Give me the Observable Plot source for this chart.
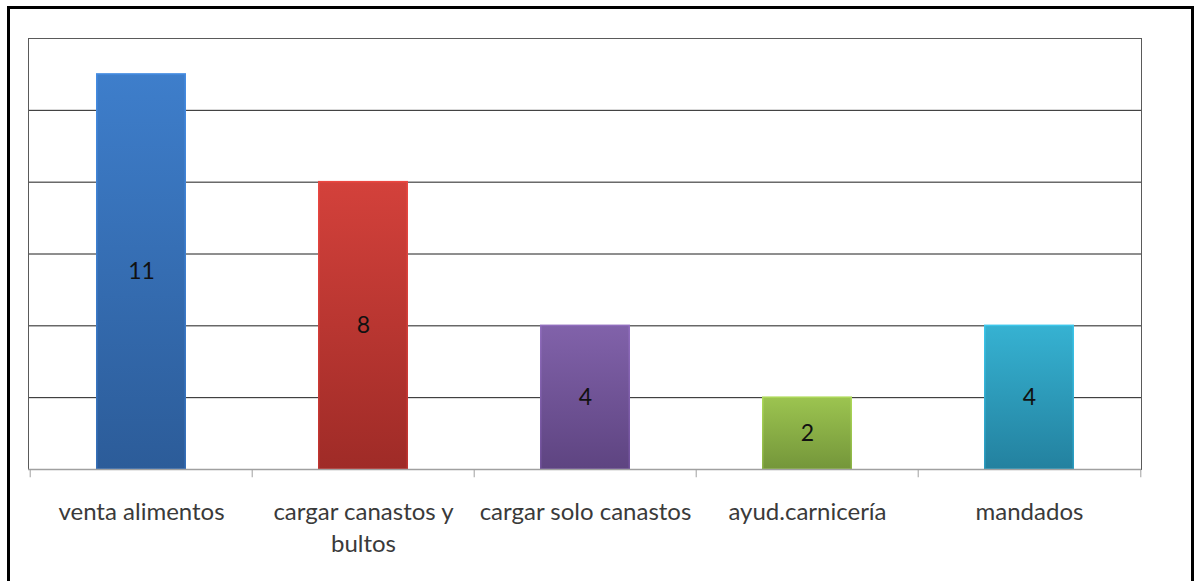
<!DOCTYPE html>
<html>
<head>
<meta charset="utf-8">
<script src="https://cdn.jsdelivr.net/npm/d3@7"></script>
<script src="https://cdn.jsdelivr.net/npm/@observablehq/plot@0.6"></script>
<style>
  html, body { margin: 0; padding: 0; background: #fff; overflow: hidden; }
  #wrap { position: relative; width: 1197px; height: 581px; }
  #border { position: absolute; left: 7px; top: 6px; width: 1181px; height: 600px; border: 3px solid #000; pointer-events: none; }
  #chart { position: absolute; left: 0; top: 0; }
</style>
</head>
<body>
<div id="wrap"><div id="chart"></div><div id="border"></div></div>
<script>
const categories = ["venta alimentos", "cargar canastos y bultos", "cargar solo canastos", "ayud.carnicería", "mandados"];
const tickLabels = ["venta alimentos", "cargar canastos y\nbultos", "cargar solo canastos", "ayud.carnicería", "mandados"];
const values = [11, 8, 4, 2, 4];
const gridValues = [2, 4, 6, 8, 10, 12];

const paletteTop = ["#3e7ecb", "#d3413b", "#8162aa", "#9cc450", "#36b2d2"];
const paletteBottom = ["#2c5c99", "#9f2b27", "#5e4481", "#74963a", "#23819f"];

const data = categories.map((c, i) => ({cat: c, value: values[i]}));

const W = 1197, H = 581;
const mL = 28, mR = 56, mT = 38, mB = 112;
const step = (W - mL - mR) / categories.length;

const plot = Plot.plot({
  width: W, height: H,
  marginLeft: mL, marginRight: mR, marginTop: mT, marginBottom: mB,
  style: {background: "none", fontFamily: "Lato, 'Open Sans', sans-serif"},
  x: {domain: categories, paddingInner: 0.596, paddingOuter: 0.298, axis: null},
  y: {domain: [0, 12], axis: null},
  color: {type: "identity"},
  marks: [
    Plot.ruleY(gridValues, {stroke: "#1e1e1e", strokeWidth: 1}),
    Plot.frame({stroke: "#5a5a5a"}),
    Plot.barY(data, {x: "cat", y: "value", fill: (d, i) => `url(#grad${i})`, stroke: (d, i) => `url(#edge${i})`, strokeWidth: 1.5, insetLeft: 0.75, insetRight: 0.75}),
    Plot.text(data, {x: "cat", y: d => d.value / 2, text: d => String(d.value), fontSize: 23, fill: "#111"}),
    Plot.ruleY([0], {stroke: "#a0a0a0", strokeWidth: 1.5}),
    Plot.ruleX(data, {x: "cat", dx: -step / 2, y1: 0, y2: -0.23, stroke: "#a0a0a0"}),
    Plot.ruleX(data.slice(-1), {x: "cat", dx: step / 2, y1: 0, y2: -0.23, stroke: "#a0a0a0"}),
    Plot.axisX({
      tickSize: 0, tickPadding: 28, fontSize: 24, lineHeight: 1.33, fill: "#3a3a3a",
      label: null,
      tickFormat: d => tickLabels[categories.indexOf(d)]
    })
  ]
});

const svg = d3.select(plot);
const defs = svg.insert("defs", ":first-child");
paletteTop.forEach((top, i) => {
  const g = defs.append("linearGradient").attr("id", `grad${i}`)
    .attr("x1", 0).attr("y1", 0).attr("x2", 0).attr("y2", 1);
  g.append("stop").attr("offset", "0%").attr("stop-color", top);
  g.append("stop").attr("offset", "100%").attr("stop-color", paletteBottom[i]);
  const e = defs.append("linearGradient").attr("id", `edge${i}`)
    .attr("x1", 0).attr("y1", 0).attr("x2", 0).attr("y2", 1);
  e.append("stop").attr("offset", "0%").attr("stop-color", d3.color(top).brighter(0.3).formatHex());
  e.append("stop").attr("offset", "100%").attr("stop-color", d3.color(paletteBottom[i]).brighter(0.5).formatHex());
});

document.getElementById("chart").appendChild(plot);
</script>
</body>
</html>
